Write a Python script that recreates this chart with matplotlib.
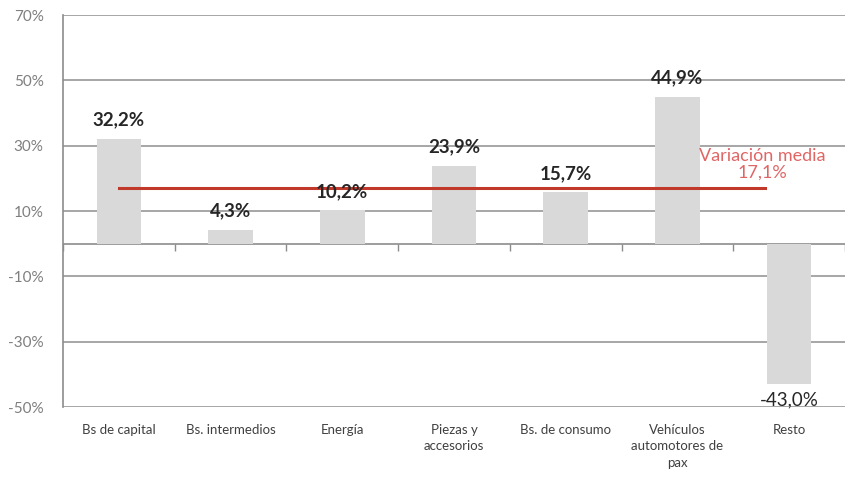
import numpy as np
import matplotlib.pyplot as plt

plt.rcParams['font.family'] = ['Lato', 'DejaVu Sans']

categories = ["Bs de capital", "Bs. intermedios", "Energía", "Piezas y\naccesorios",
              "Bs. de consumo", "Vehículos\nautomotores de\npax", "Resto"]
values = [32.2, 4.3, 10.2, 23.9, 15.7, 44.9, -43.0]
media = 17.1
yticks = [70, 50, 30, 10, -10, -30, -50]

fig = plt.figure(figsize=(8.57, 4.78), dpi=100)
ax = fig.add_axes([0.0735, 0.1485, 0.9125, 0.82])

x = np.arange(len(categories))
ax.set_axisbelow(True)
for t in yticks:
    ax.axhline(t, color="#a6a6a6", lw=1.4, zorder=0)
ax.bar(x, values, width=0.4, color="#d9d9d9", zorder=2)

# eje en cero con marcas entre categorias
ax.axhline(0, color="#8c8c8c", lw=1.2, zorder=1)
ax.vlines(np.arange(len(categories) + 1) - 0.5, -2.3, 0, color="#8c8c8c", lw=1.0, zorder=1)

# linea de variacion media
ax.plot([0, 5.78], [media, media], color="#c0392b", lw=2.2, zorder=3)
ax.text(5.76, 24.4, "Variación media\n" + f"{media:.1f}%".replace(".", ","),
        color="#e06666", ha="center", va="center", fontsize=13, linespacing=1.05, zorder=4)

for xi, v in zip(x, values):
    lbl = f"{v:.1f}%".replace(".", ",")
    if v >= 0:
        ax.text(xi, v + 3.2, lbl, ha="center", va="bottom", fontsize=13.5,
                fontweight="bold", color="#262626", zorder=4)
    else:
        ax.text(xi, v - 2.2, lbl, ha="center", va="top", fontsize=13.5,
                color="#262626", zorder=4)

ax.set_xlim(-0.5, len(categories) - 0.5)
ax.set_ylim(-50, 70)
ax.set_yticks(yticks)
ax.set_yticklabels([f"{t}%" for t in yticks], fontsize=11, color="#7f7f7f")
ax.set_xticks(x)
ax.set_xticklabels(categories, fontsize=9.5, color="#404040", linespacing=1.45)
ax.tick_params(axis="x", length=0, pad=12)
ax.tick_params(axis="y", length=0, pad=14)
for s in ["top", "right", "bottom"]:
    ax.spines[s].set_visible(False)
ax.spines["left"].set_color("#8c8c8c")
ax.spines["left"].set_linewidth(1.2)

fig.savefig("out.png", dpi=100)
